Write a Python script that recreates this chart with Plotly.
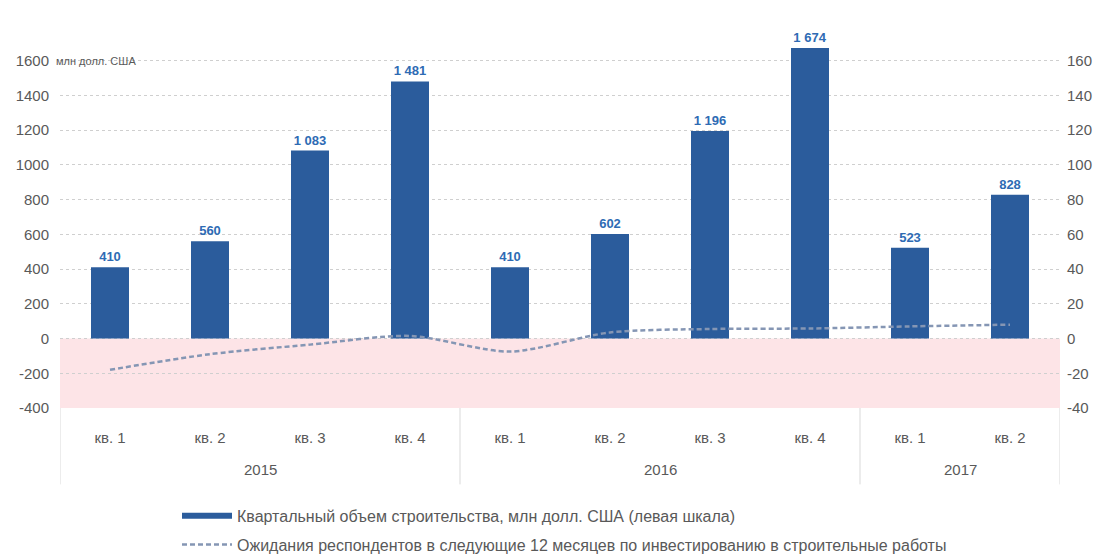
import plotly.graph_objects as go

quarters = ["кв. 1", "кв. 2", "кв. 3", "кв. 4", "кв. 1", "кв. 2", "кв. 3", "кв. 4", "кв. 1", "кв. 2"]
years = ["2015", "2016", "2017"]
year_spans = [(0, 3), (4, 7), (8, 9)]
volume = [410, 560, 1083, 1481, 410, 602, 1196, 1674, 523, 828]
volume_labels = ["410", "560", "1 083", "1 481", "410", "602", "1 196", "1 674", "523", "828"]
expectations = [-18, -9, -3.5, 1.5, -7.5, 3.5, 5.5, 5.8, 7, 8]
left_ticks = [-400, -200, 0, 200, 400, 600, 800, 1000, 1200, 1400, 1600]
left_tick_text = ["-400", "-200", "0", "200", "400", "600", "800", "1000", "1200", "1400", "1600"]
right_ticks = [-40, -20, 0, 20, 40, 60, 80, 100, 120, 140, 160]
right_tick_text = ["-40", "-20", "0", "20", "40", "60", "80", "100", "120", "140", "160"]

name_bar = "Квартальный объем строительства, млн долл. США (левая шкала)"
name_line = "Ожидания респондентов в следующие 12 месяцев по инвестированию в строительные работы"

x = list(range(len(quarters)))
FONT = "Liberation Sans"
GREY = "#595959"
BLUE = "#2b5c9c"
LINEC = "#8596b4"
TICK = 15

fig = go.Figure()
fig.add_trace(go.Bar(
    x=x, y=volume, marker=dict(color=BLUE, line=dict(width=0)), width=0.38,
    text=volume_labels, textposition="outside", cliponaxis=False,
    textfont=dict(family=FONT, size=13, color="#2e6bb4", weight="bold"),
    showlegend=False, hoverinfo="y"))
fig.add_trace(go.Scatter(
    x=x, y=expectations, yaxis="y2", mode="lines",
    line=dict(color=LINEC, width=2.5, dash="5px,3px", shape="spline", smoothing=0.8),
    name=name_line, legendgroup="b", legendrank=2))
# legend entry for bars (drawn as thick line like original)
fig.add_trace(go.Scatter(
    x=[None], y=[None], mode="lines", line=dict(color=BLUE, width=6),
    name=name_bar, legendgroup="a", legendrank=1))

shapes = [dict(type="rect", xref="x", yref="y", x0=-0.5, x1=9.5, y0=-400, y1=0,
               fillcolor="#fde4e7", line=dict(width=0), layer="below")]
for xs in [-0.5, 3.5, 7.5, 9.5]:
    shapes.append(dict(type="line", xref="x", yref="paper", x0=xs, x1=xs, y0=0, y1=-0.2,
                       line=dict(color="#d9d9d9", width=1)))

annotations = []
for yr, (a, b) in zip(years, year_spans):
    annotations.append(dict(x=(a + b) / 2, y=-0.162, xref="x", yref="paper", text=yr,
                            showarrow=False, font=dict(family=FONT, size=TICK, color=GREY),
                            yanchor="middle"))
annotations.append(dict(x=0, y=1600, xref="paper", yref="y", text="млн долл. США",
                        showarrow=False, xanchor="left", xshift=-6,
                        font=dict(family=FONT, size=11, color=GREY)))

fig.update_layout(
    width=1103, height=557,
    margin=dict(l=60, r=43, t=26, b=149, autoexpand=False),
    paper_bgcolor="white", plot_bgcolor="white",
    xaxis=dict(tickvals=x, ticktext=quarters, range=[-0.5, 9.5], showgrid=False,
               zeroline=False, showline=False, ticks="", ticklabelstandoff=19,
               tickfont=dict(family=FONT, size=TICK, color=GREY), automargin=False),
    yaxis=dict(range=[-400, 1800], tickvals=left_ticks, ticktext=left_tick_text, showgrid=True,
               gridcolor="#cfcfcf", griddash="dot", gridwidth=1.2, zeroline=False,
               showline=False, tickfont=dict(family=FONT, size=TICK, color=GREY),
               ticklabelstandoff=10, automargin=False),
    yaxis2=dict(range=[-40, 180], tickvals=right_ticks, ticktext=right_tick_text,
                overlaying="y", side="right",
                showgrid=False, zeroline=False, showline=False, automargin=False,
                tickfont=dict(family=FONT, size=TICK, color=GREY), ticklabelstandoff=6),
    shapes=shapes, annotations=annotations,
    legend=dict(orientation="v", x=0.117, y=-0.238, xanchor="left", yanchor="top",
                font=dict(family=FONT, size=16, color=GREY), tracegroupgap=5,
                itemwidth=50, bgcolor="rgba(0,0,0,0)"),
    font=dict(family=FONT),
)
fig.write_html("out.html", config={"displayModeBar": False},
               post_script="document.body.style.margin='0';document.body.style.overflow='hidden';")
